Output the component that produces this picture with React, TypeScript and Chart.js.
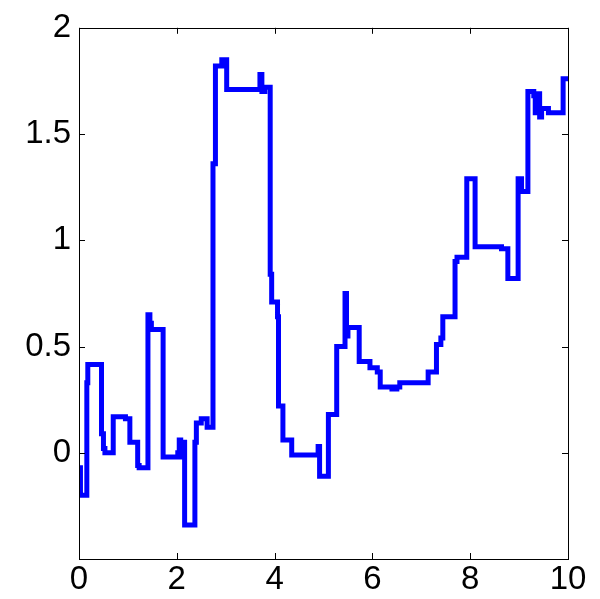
import React, { useEffect, useRef } from "react";
import { Chart, registerables } from "chart.js";

Chart.register(...registerables);

const xValues = [
  0, 0.03, 0.16, 0.18, 0.46, 0.5, 0.53, 0.7, 0.95, 1.04, 1.2, 1.23, 1.41, 1.45, 1.48, 1.72,
  2.02, 2.05, 2.08, 2.12, 2.16, 2.37, 2.4, 2.5, 2.62, 2.74, 2.79, 2.92, 3.02, 3.7, 3.74,
  3.8, 3.91, 3.94, 4.06, 4.08, 4.17, 4.35, 4.89, 4.92, 5.1, 5.27, 5.44, 5.47, 5.5, 5.73,
  5.95, 6.1, 6.16, 6.4, 6.5, 6.56, 7.14, 7.31, 7.4, 7.44, 7.69, 7.73, 7.93, 8.1, 8.64,
  8.77, 8.98, 9.05, 9.18, 9.3, 9.33, 9.38, 9.42, 9.46, 9.6, 9.9, 10,
];
const yValues = [
  -0.07, -0.2, 0.33, 0.415, 0.09, 0.02, 0.0, 0.17, 0.16, 0.05, -0.06, -0.07, 0.65, 0.61,
  0.58, -0.02, 0.0, 0.06, -0.02, 0.05, -0.34, 0.05, 0.14, 0.16, 0.12, 1.36, 1.82, 1.85,
  1.71, 1.78, 1.7, 1.72, 0.84, 0.71, 0.64, 0.22, 0.06, -0.01, 0.03, -0.11, 0.18, 0.5,
  0.75, 0.55, 0.59, 0.43, 0.4, 0.38, 0.31, 0.3, 0.31, 0.33, 0.38, 0.51, 0.54, 0.64, 0.9,
  0.92, 1.29, 0.97, 0.96, 0.82, 1.29, 1.23, 1.7, 1.68, 1.6, 1.69, 1.58, 1.62, 1.6, 1.76,
  1.76,
];
const xTicks = [0, 2, 4, 6, 8, 10];
const yTicks = [-0.5, 0, 0.5, 1, 1.5, 2];
const yTickLabels = ["", "0", "0.5", "1", "1.5", "2"];

const boxPlugin = {
  id: "boxTicks",
  afterDraw(chart: any) {
    const { ctx, chartArea } = chart;
    const xs = chart.scales.x;
    const ys = chart.scales.y;
    const len = 6;
    ctx.save();
    ctx.strokeStyle = "#000";
    ctx.lineWidth = 1;
    ctx.strokeRect(
      Math.round(chartArea.left) + 0.5,
      Math.round(chartArea.top) + 0.5,
      Math.round(chartArea.right - chartArea.left),
      Math.round(chartArea.bottom - chartArea.top)
    );
    ctx.beginPath();
    xTicks.forEach((v) => {
      const px = Math.round(xs.getPixelForValue(v)) + 0.5;
      ctx.moveTo(px, chartArea.bottom);
      ctx.lineTo(px, chartArea.bottom - len);
      ctx.moveTo(px, chartArea.top);
      ctx.lineTo(px, chartArea.top + len);
    });
    yTicks.forEach((v) => {
      const py = Math.round(ys.getPixelForValue(v)) + 0.5;
      ctx.moveTo(chartArea.left, py);
      ctx.lineTo(chartArea.left + len, py);
      ctx.moveTo(chartArea.right, py);
      ctx.lineTo(chartArea.right - len, py);
    });
    ctx.stroke();
    ctx.restore();
  },
};

export default function App() {
  const ref = useRef<HTMLCanvasElement>(null);
  useEffect(() => {
    if (!ref.current) return;
    const data = xValues.map((x, i) => ({ x, y: yValues[i] }));
    const chart = new Chart(ref.current, {
      type: "line",
      data: {
        datasets: [
          {
            data,
            borderColor: "#0000ff",
            borderWidth: 5,
            pointRadius: 0,
            stepped: "before",
            fill: false,
          },
        ],
      },
      options: {
        animation: false,
        responsive: false,
        maintainAspectRatio: false,
        layout: { padding: { left: 0, top: 26, right: 32, bottom: 0 } },
        plugins: { legend: { display: false }, tooltip: { enabled: false } },
        scales: {
          x: {
            type: "linear",
            min: 0,
            max: 10,
            afterBuildTicks: (s: any) => {
              s.ticks = xTicks.map((v) => ({ value: v }));
            },
            afterFit: (s: any) => {
              s.height = 40;
            },
            grid: { display: false, drawTicks: false },
            border: { display: false },
            ticks: {
              color: "#000",
              padding: 1,
              maxRotation: 0,
              autoSkip: false,
              font: { family: "Liberation Sans, Arial, sans-serif", size: 33 },
            },
          },
          y: {
            type: "linear",
            min: -0.5,
            max: 2,
            afterBuildTicks: (s: any) => {
              s.ticks = yTicks.map((v) => ({ value: v }));
            },
            afterFit: (s: any) => {
              s.width = 79;
            },
            grid: { display: false, drawTicks: false },
            border: { display: false },
            ticks: {
              color: "#000",
              padding: 8,
              autoSkip: false,
              callback: (v: any) => {
                const i = yTicks.indexOf(Number(v));
                return i >= 0 ? yTickLabels[i] : "";
              },
              font: { family: "Liberation Sans, Arial, sans-serif", size: 33 },
            },
          },
        },
      },
      plugins: [boxPlugin],
    });
    return () => chart.destroy();
  }, []);
  return (
    <div style={{ position: "fixed", left: 0, top: 0, width: 600, height: 599, background: "#fff" }}>
      <canvas ref={ref} width={600} height={599} style={{ width: 600, height: 599, display: "block" }} />
    </div>
  );
}
